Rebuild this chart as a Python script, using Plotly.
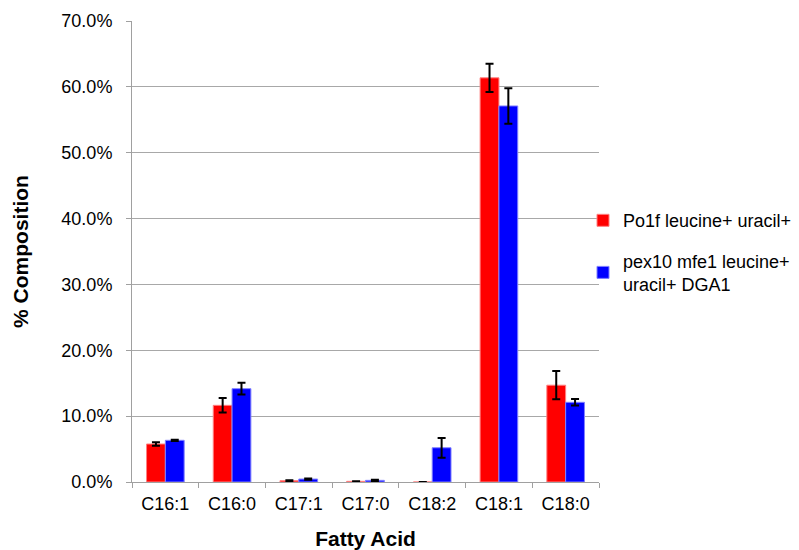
import plotly.graph_objects as go

categories = ["C16:1", "C16:0", "C17:1", "C17:0", "C18:2", "C18:1", "C18:0"]
po1f_values = [0.0577, 0.1164, 0.0020, 0.0010, 0.0, 0.6137, 0.1470]
po1f_errors = [0.0028, 0.0110, 0.0005, 0.0003, 0.0, 0.0215, 0.0215]
pex10_values = [0.0633, 0.1417, 0.0045, 0.0025, 0.0520, 0.5710, 0.1210]
pex10_errors = [0.0010, 0.0090, 0.0010, 0.0008, 0.0150, 0.0270, 0.0050]
series_names = ["Po1f leucine+ uracil+", "pex10 mfe1 leucine+<br>uracil+ DGA1"]
y_ticks = [0.0, 0.1, 0.2, 0.3, 0.4, 0.5, 0.6, 0.7]

font_family = "Liberation Sans, Arial, sans-serif"

fig = go.Figure()
fig.add_trace(go.Bar(
    x=categories, y=po1f_values, name=series_names[0],
    marker=dict(color="#ff0000", line=dict(color="#ff8080", width=1)),
    error_y=dict(type="data", array=po1f_errors, color="black", thickness=2, width=4),
    legend="legend",
))
fig.add_trace(go.Bar(
    x=categories, y=pex10_values, name=series_names[1],
    marker=dict(color="#0000ff", line=dict(color="#8080ff", width=1)),
    error_y=dict(type="data", array=pex10_errors, color="black", thickness=2, width=4),
    legend="legend2",
))

legend_x = (583 - 132) / (799 - 132 - 200)
fig.update_layout(
    width=799, height=550,
    margin=dict(l=132, r=200, t=21, b=68, autoexpand=False),
    paper_bgcolor="white", plot_bgcolor="white",
    barmode="group", bargap=0.436, bargroupgap=0.0,
    font=dict(family=font_family, size=18, color="black"),
    showlegend=True,
    legend=dict(xref="paper", x=legend_x, y=0.567, xanchor="left", yanchor="middle",
                font=dict(size=18), bgcolor="rgba(0,0,0,0)", itemwidth=30),
    legend2=dict(xref="paper", x=legend_x, y=0.4545, xanchor="left", yanchor="middle",
                 font=dict(size=18), bgcolor="rgba(0,0,0,0)", itemwidth=30),
)
fig.update_xaxes(
    title=dict(text="<b>Fatty Acid</b>", font=dict(size=21), standoff=18),
    tickson="boundaries", ticks="outside", ticklen=5, tickcolor="#a0a0a0",
    showline=True, linecolor="#a0a0a0", linewidth=1,
    tickfont=dict(size=18), ticklabelstandoff=5,
)
fig.update_yaxes(
    title=dict(text="<b>% Composition</b>", font=dict(size=21), standoff=27),
    range=[0, 0.7], tickvals=y_ticks, tickformat=".1%",
    ticks="outside", ticklen=5, tickcolor="#a0a0a0",
    showline=True, linecolor="#a0a0a0", linewidth=1,
    showgrid=True, gridcolor="#a8a8a8", gridwidth=1,
    zeroline=False, tickfont=dict(size=18), ticklabelstandoff=10,
)

fig.write_html("out.html", config={"displayModeBar": False},
               post_script="document.body.style.margin='0px';")
